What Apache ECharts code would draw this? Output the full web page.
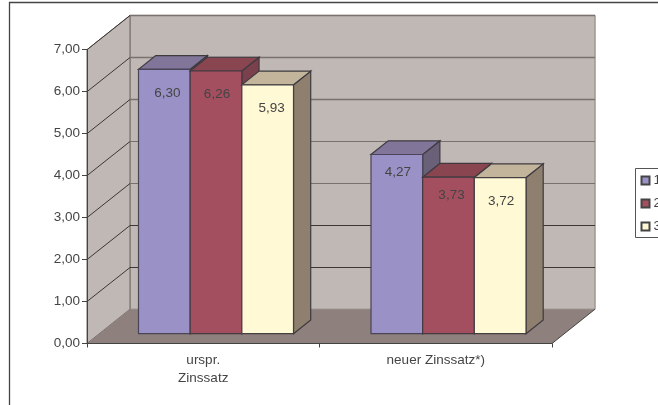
<!DOCTYPE html>
<html><head><meta charset="utf-8">
<style>html,body{margin:0;padding:0;background:#fff}#c{width:658px;height:405px}</style>
<script src="https://cdn.jsdelivr.net/npm/echarts@6/dist/echarts.min.js"></script>
</head><body><div id="c"></div>
<script>
const categories = ['urspr.\nZinssatz', 'neuer Zinssatz*)'];
const seriesNames = ['1', '2', '3'];
const values1 = [6.30, 4.27];
const values2 = [6.26, 3.73];
const values3 = [5.93, 3.72];
const yTicks = [0, 1, 2, 3, 4, 5, 6, 7];

const FONT = '"Liberation Sans", Arial, sans-serif';
const TEXT = '#444444';
const DX = 43, DY = -34.3;              // depth of the whole 3D box, px
const BAR_OFF = 0.285, BAR_DEPTH = 0.40; // bar front position and depth, as share of box depth
const palette = [
  {front:'#9A92C6', top:'#81769A', side:'#6A6078', edge:'#4A4458'},
  {front:'#A34F5F', top:'#8A4650', side:'#7A404C', edge:'#443A40'},
  {front:'#FFF9D6', top:'#C2B59B', side:'#8F7F6E', edge:'#444040'}
];
// small hand offsets of the value labels relative to the bar: [dx, dy below top]
const labelNudge = [
  [[3, 24], [1, 17.5]],
  [[1, 23], [3, 18]],
  [[4, 23.5], [1, 24]]
];

function poly(points, fill, stroke, lw) {
  return {type:'polygon', shape:{points}, style:{fill, stroke:stroke||'none', lineWidth:lw||0}};
}

function renderWalls(params, api) {
  const g = params.coordSys;
  const x0 = g.x, x1 = g.x + g.width, yb = g.y + g.height, yt = g.y;
  return {type:'group', children:[
    poly([[x0+DX,yb+DY],[x1+DX,yb+DY],[x1+DX,yt+DY],[x0+DX,yt+DY]], '#C0B8B4', '#8E8480', 1),
    poly([[x0,yb],[x0+DX,yb+DY],[x0+DX,yt+DY],[x0,yt]], '#C0B8B4', '#6E6664', 1),
    poly([[x0,yb],[x1,yb],[x1+DX,yb+DY],[x0+DX,yb+DY]], '#8E807C', null, 0),
    {type:'line', shape:{x1:x1, y1:yb, x2:x1+DX, y2:yb+DY}, style:{stroke:'#444', lineWidth:1}},
    {type:'line', shape:{x1:x1+DX, y1:yb+DY, x2:x1+DX, y2:yt+DY}, style:{stroke:'#A89E9A', lineWidth:1}}
  ]};
}

function renderGridline(params, api) {
  const g = params.coordSys;
  const v = api.value(0);
  const y = api.coord([0, v])[1];
  if (v === 0) return {type:'group', children:[]};
  const dark = v <= 2 ? '#3C3636' : '#7A7070';
  const yy = Math.round(y + DY) + 0.5;
  return {type:'group', children:[
    {type:'line', shape:{x1:g.x, y1:y, x2:g.x+DX, y2:yy}, style:{stroke:'#3C3636', lineWidth:1}},
    {type:'line', shape:{x1:g.x+DX, y1:yy, x2:g.x+g.width+DX, y2:yy}, style:{stroke:dark, lineWidth: v>=5 ? 1.4 : 1}}
  ]};
}

function makeBarRenderer(si) {
  return function (params, api) {
    const c = palette[si];
    const idx = api.value(0), val = api.value(1);
    const band = api.size([1, 0])[0];
    const w = band * 2 / 9;
    const cx = api.coord([idx, 0])[0] + DX * BAR_OFF + 0.5;
    const yBase = api.coord([idx, 0])[1] + DY * BAR_OFF;
    const yTop = api.coord([idx, val])[1] + DY * BAR_OFF;
    const xl = cx - 1.5 * w + si * w, xr = xl + w;
    const dx = DX * BAR_DEPTH, dy = DY * BAR_DEPTH;
    const n = labelNudge[si][idx];
    return {type:'group', children:[
      poly([[xr,yBase],[xr+dx,yBase+dy],[xr+dx,yTop+dy],[xr,yTop]], c.side, '#3E3A40', 1.2),
      poly([[xl,yTop],[xr,yTop],[xr+dx,yTop+dy],[xl+dx,yTop+dy]], c.top, '#3E3A40', 1.2),
      {type:'rect', shape:{x:xl, y:yTop, width:w, height:yBase-yTop}, style:{fill:c.front, stroke:c.edge, lineWidth:1.2}},
      {type:'text', x:xl + w/2 + n[0], y:yTop + n[1],
       style:{text:val.toFixed(2).replace('.', ','), fill:TEXT, font:'13.5px '+FONT, align:'center', verticalAlign:'middle'}}
    ]};
  };
}

const seriesValues = [values1, values2, values3];
const chart = echarts.init(document.getElementById('c'), null, {renderer:'canvas'});
chart.setOption({
  animation:false,
  backgroundColor:'#fff',
  textStyle:{fontFamily:FONT},
  grid:{left:87, right:106, top:49.7, bottom:61.5, containLabel:false},
  graphic:[{type:'polyline', z:0, silent:true,
    shape:{points:[[9.5,415],[9.5,2.5],[670,2.5]]}, style:{fill:'none', stroke:'#444', lineWidth:1.3}}],
  legend:{
    data:seriesNames, orient:'vertical', left:635.5, top:168.5,
    padding:[5,30,4,5], itemGap:9, itemWidth:8, itemHeight:8, icon:'rect',
    backgroundColor:'#fff', borderColor:'#555', borderWidth:1,
    textStyle:{color:TEXT, fontSize:13.5, fontFamily:FONT, padding:[0,0,0,-1]}
  },
  xAxis:{type:'category', data:categories, z:10,
    axisLine:{lineStyle:{color:'#444', width:1}},
    axisTick:{show:true, length:4, alignWithLabel:false, lineStyle:{color:'#444'}},
    axisLabel:{color:TEXT, fontSize:13.5, fontFamily:FONT, margin:8, lineHeight:18, interval:0},
    splitLine:{show:false}},
  yAxis:{type:'value', min:0, max:7, interval:1, z:10,
    axisLine:{show:true, lineStyle:{color:'#444', width:1}},
    axisTick:{show:true, length:5, lineStyle:{color:'#444'}},
    axisLabel:{color:TEXT, fontSize:13.5, fontFamily:FONT, margin:7, formatter:v=>v.toFixed(2).replace('.', ',')},
    splitLine:{show:false}},
  series:[
    {type:'custom', name:'walls', z:1, silent:true, clip:false, renderItem:renderWalls, data:[[0]], encode:{x:[],y:[]}},
    {type:'custom', name:'gridlines', z:1, silent:true, clip:false, renderItem:renderGridline,
      data:yTicks.map(v=>[v]), encode:{y:0}},
    ...seriesNames.map((name, si)=>({
      type:'custom', name, z:3, clip:false, renderItem:makeBarRenderer(si),
      itemStyle:{color:palette[si].front, borderColor:'#444', borderWidth:1},
      encode:{x:0, y:1},
      data:seriesValues[si].map((v,i)=>[i,v])
    }))
  ]
});
</script></body></html>
